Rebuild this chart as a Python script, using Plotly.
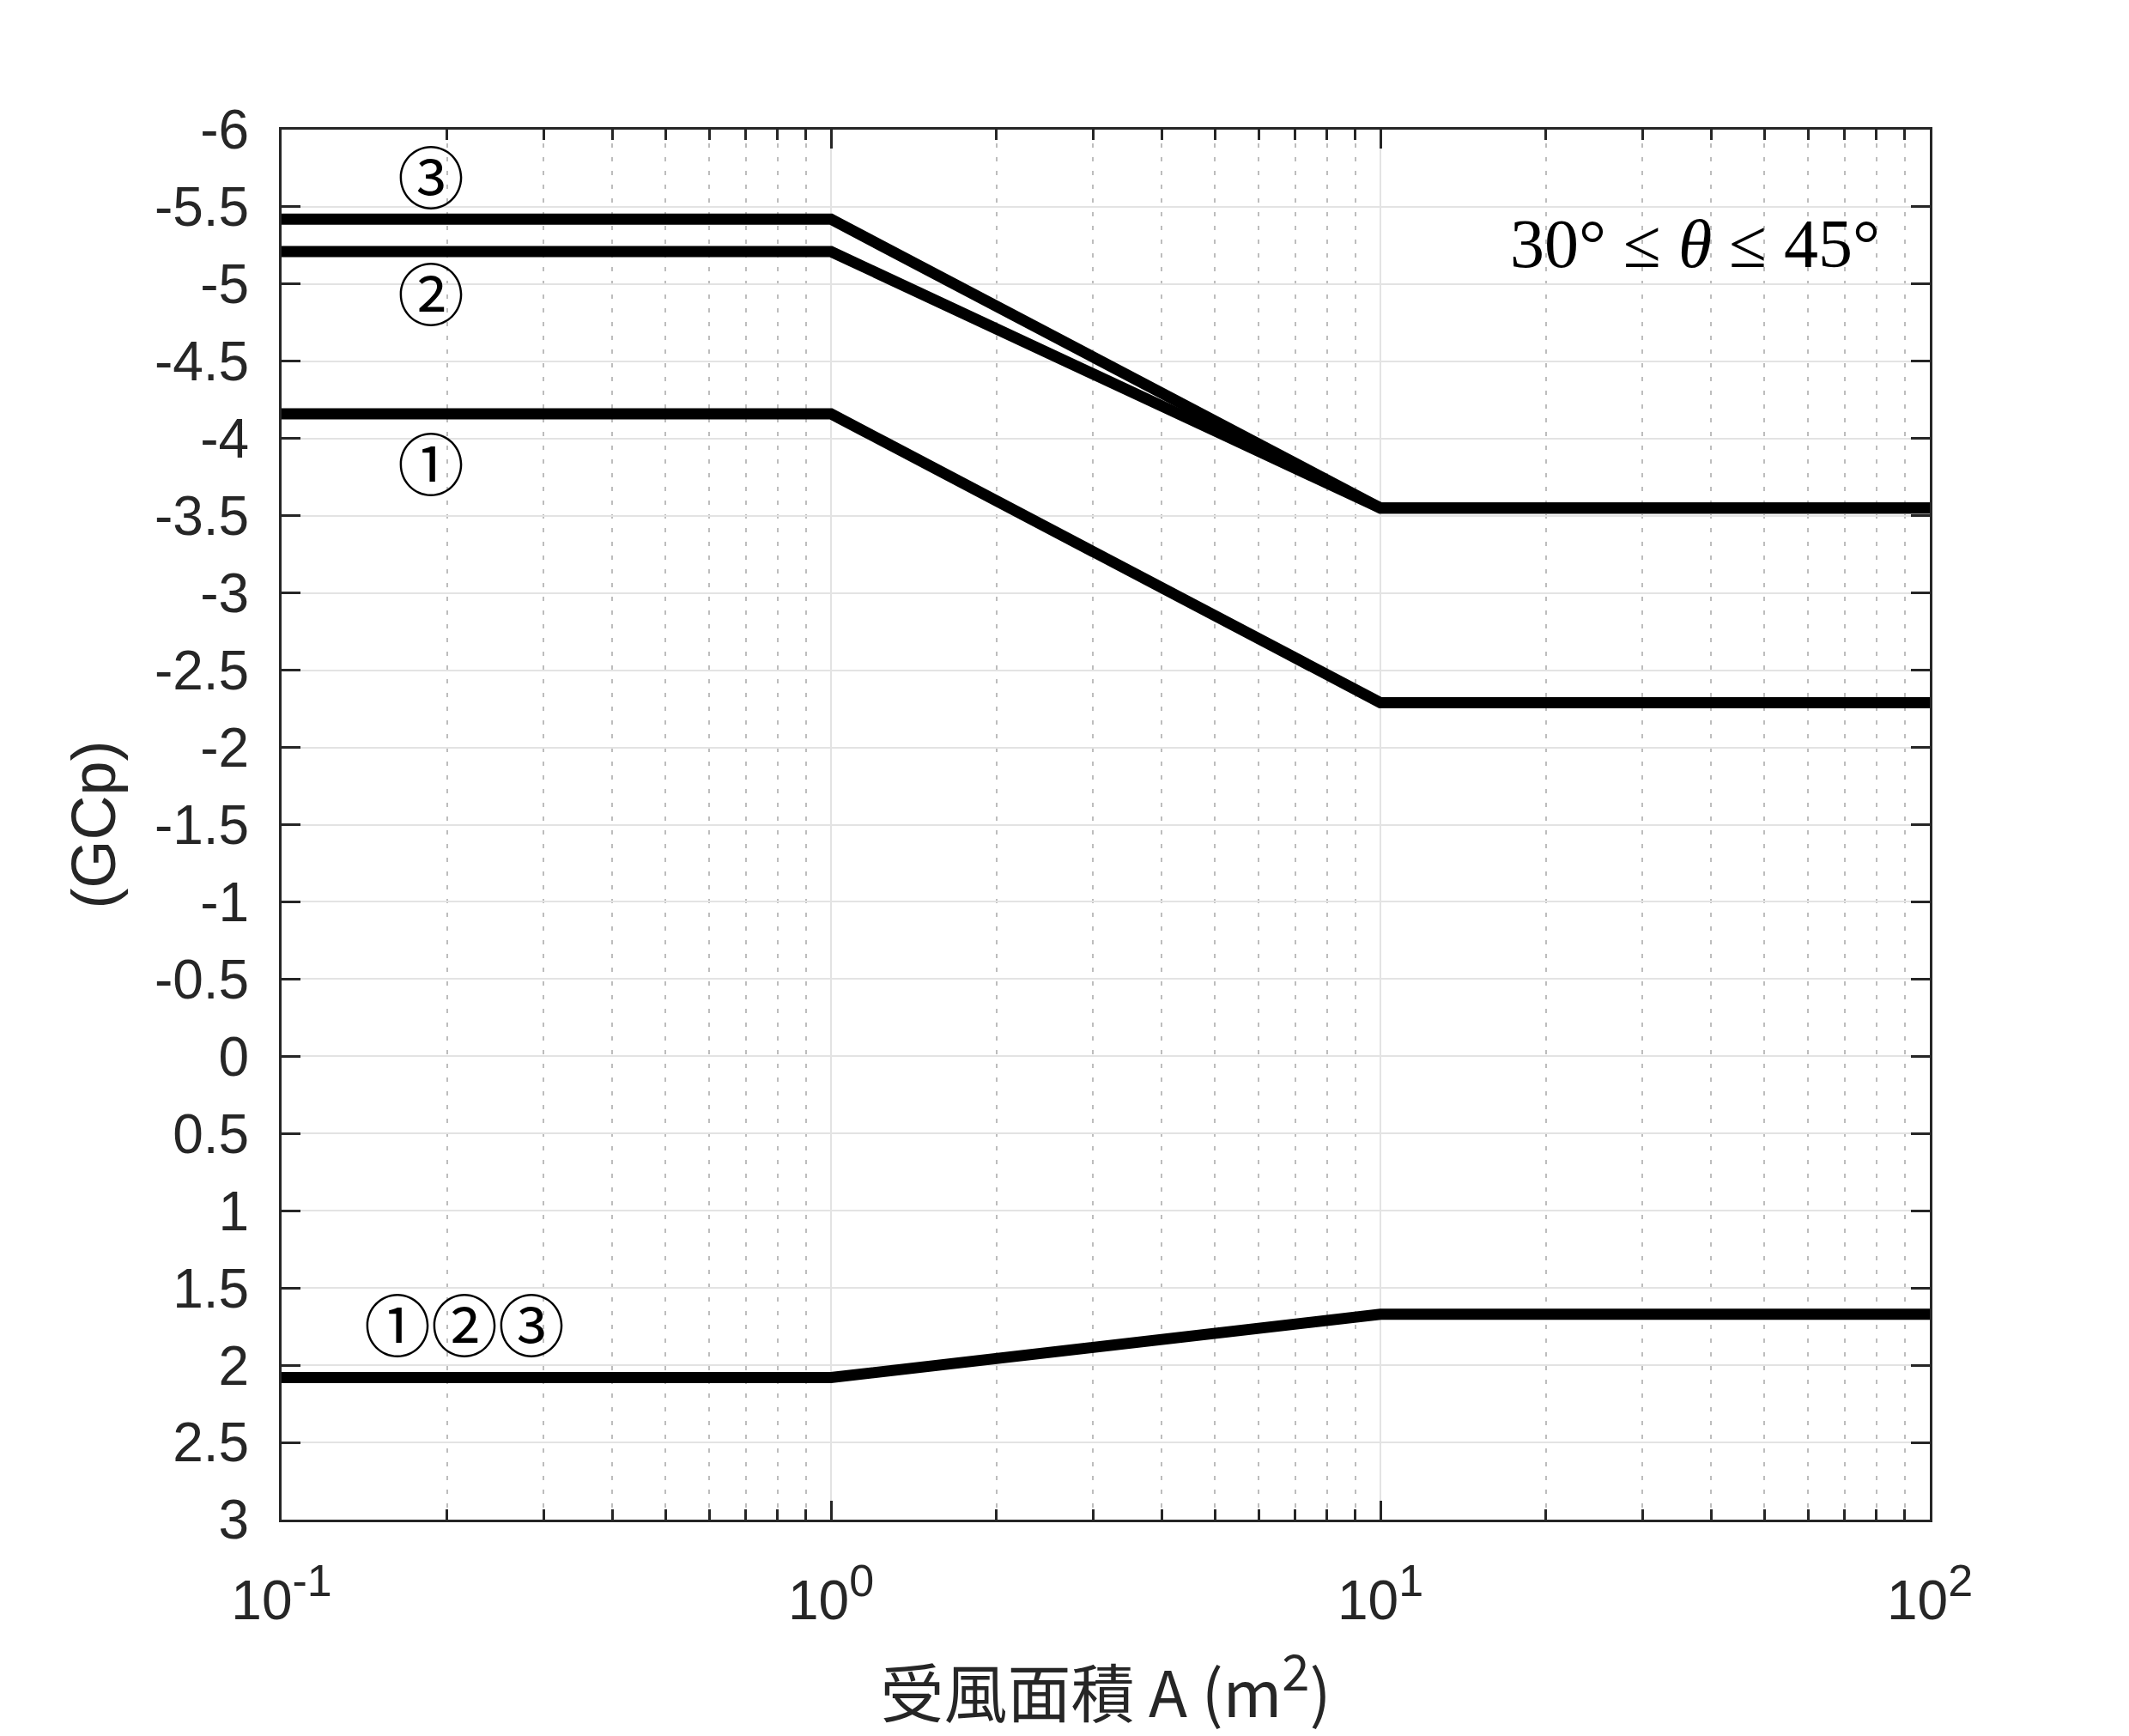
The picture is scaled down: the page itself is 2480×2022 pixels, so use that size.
import math
import plotly.graph_objects as go

# ---- data ----
area = [0.1, 1, 10, 100]
zone3_neg = [-5.42, -5.42, -3.55, -3.55]
zone2_neg = [-5.21, -5.21, -3.55, -3.55]
zone1_neg = [-4.16, -4.16, -2.29, -2.29]
zone_all_pos = [2.08, 2.08, 1.67, 1.67]

y_tickvals = [-6, -5.5, -5, -4.5, -4, -3.5, -3, -2.5, -2, -1.5, -1, -0.5, 0,
              0.5, 1, 1.5, 2, 2.5, 3]
y_ticktext = ["-6", "-5.5", "-5", "-4.5", "-4", "-3.5", "-3", "-2.5", "-2", "-1.5",
              "-1", "-0.5", "0", "0.5", "1", "1.5", "2", "2.5", "3"]
x_tickvals = [0.1, 1, 10, 100]
x_exponents = ["-1", "0", "1", "2"]
x_minor_vals = [0.2, 0.3, 0.4, 0.5, 0.6, 0.7, 0.8, 0.9,
                2, 3, 4, 5, 6, 7, 8, 9,
                20, 30, 40, 50, 60, 70, 80, 90]

labels = ["③", "②", "①", "①②③"]
label_x = [0.187, 0.187, 0.187, 0.215]
label_y = [-5.675, -4.92, -3.82, 1.757]

x_ticktext = ['10<sup><span style="font-size:52px">%s</span></sup>' % e for e in x_exponents]

fig = go.Figure()
for ys in [zone3_neg, zone2_neg, zone1_neg, zone_all_pos]:
    fig.add_trace(go.Scatter(x=area, y=ys, mode="lines",
                             line=dict(color="black", width=13),
                             showlegend=False))

for t, lx, ly in zip(labels, label_x, label_y):
    fig.add_annotation(x=math.log10(lx), y=ly, xref="x", yref="y", text=t,
                       showarrow=False, yshift=6,
                       font=dict(family="Noto Sans CJK JP", size=78, color="black"))

fig.add_annotation(x=0.971, y=-5.26, xref="x domain", yref="y",
                   text="30° ≤ <i>θ</i> ≤ 45°", showarrow=False, xanchor="right",
                   font=dict(family="Liberation Serif", size=80, color="black"))

axis_common = dict(showline=True, linecolor="#262626", linewidth=3, mirror="ticks",
                   ticks="inside", tickcolor="#262626", tickwidth=3, ticklen=22,
                   gridcolor="#e3e3e3", gridwidth=2, zeroline=False,
                   tickfont=dict(family="Liberation Sans", size=64, color="#262626"))

fig.update_xaxes(type="log", range=[-1, 2], tickvals=x_tickvals, ticktext=x_ticktext,
                 ticklabelstandoff=36,
                 minor=dict(tickmode="array", tickvals=x_minor_vals,
                            ticks="inside", ticklen=12, tickcolor="#262626", tickwidth=3,
                            showgrid=True, gridcolor="#bdbdbd", gridwidth=2,
                            griddash="5px,11px"),
                 title=dict(text='受風面積 A (m<sup><span style="font-size:58px">2</span></sup>)',
                            standoff=50,
                            font=dict(family="Noto Sans CJK TC", size=74, color="#262626")),
                 **axis_common)
fig.update_yaxes(range=[3, -6], tickvals=y_tickvals, ticktext=y_ticktext,
                 ticklabelstandoff=22,
                 title=dict(text="(GCp)", standoff=22,
                            font=dict(family="Liberation Sans", size=72, color="#262626")),
                 **axis_common)

fig.update_layout(width=2480, height=2022, plot_bgcolor="white", paper_bgcolor="white",
                  margin=dict(l=320, r=240, t=143, b=260))

fig.write_html("out.html")
